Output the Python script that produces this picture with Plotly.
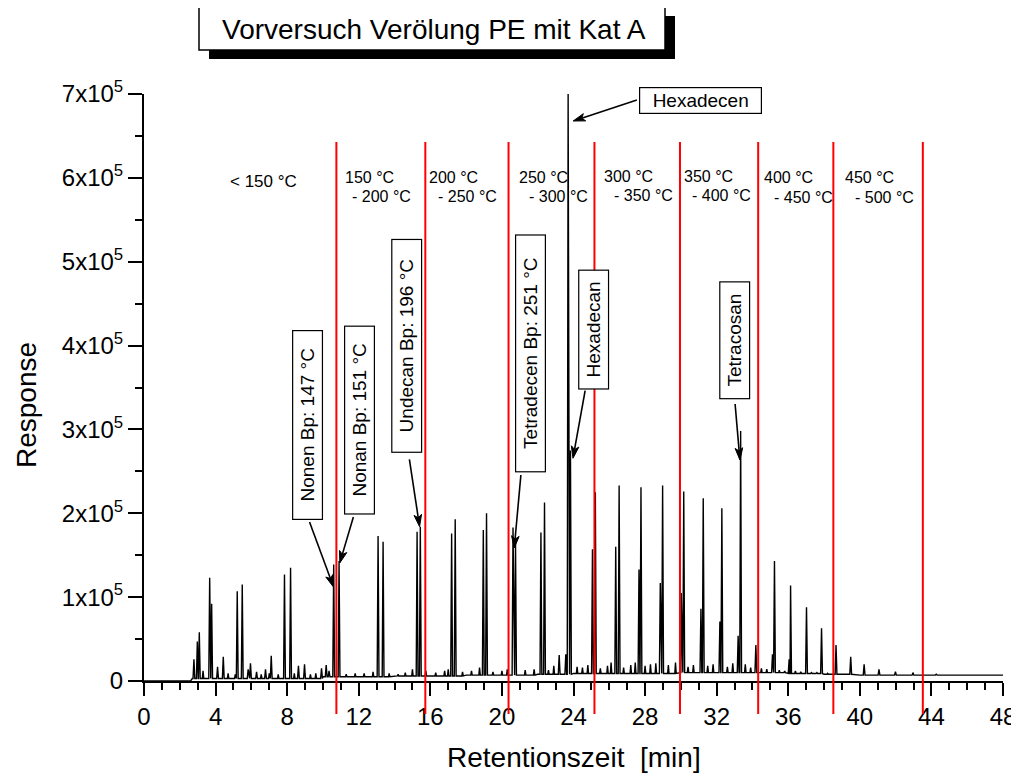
import math
import plotly.graph_objects as go

# ---------------- data ----------------
# main chromatogram peaks: retention time [min] and response
major_rt = [2.79, 2.98, 3.09, 3.67, 3.78, 4.11, 4.43, 5.21, 5.49, 5.82, 5.95, 6.29, 6.79, 7.11,
            7.85, 8.19, 8.63, 8.97, 9.92, 10.18, 10.34, 10.60, 10.90,
            13.08, 13.36, 15.26, 15.44, 17.19, 17.39, 18.96, 19.14, 20.62, 20.76,
            22.18, 22.38, 23.20, 23.57, 23.70, 23.83,
            25.06, 25.22, 26.36, 26.55, 27.66, 27.77, 28.85, 28.98, 30.02, 30.16,
            31.12, 31.25, 32.18, 32.29, 33.20, 33.34, 34.19, 35.12, 35.23, 36.05, 36.13,
            37.02, 37.86, 38.67, 39.49, 40.24, 41.07, 41.99, 42.97, 44.27]
major_resp = [26000, 47000, 58000, 123000, 92000, 17000, 29000, 107000, 115000, 14000, 21000, 11000, 14000, 30000,
              127000, 135000, 18000, 20000, 15000, 19000, 12000, 139000, 143000,
              173000, 166000, 178000, 184000, 176000, 193000, 180000, 200000, 183000, 165000,
              177000, 213000, 31000, 32000, 700000, 275000,
              157000, 225000, 160000, 233000, 133000, 231000, 117000, 233000, 105000, 226000,
              86000, 218000, 71000, 206000, 54000, 298000, 43000, 32000, 143000, 26000, 114000,
              88000, 63000, 43000, 29000, 20000, 14000, 11000, 10000, 8000]

# small baseline bumps
minor_rt = [3.30, 4.70, 5.10, 6.55, 7.00, 7.50, 8.40, 9.30, 9.60, 11.30, 11.80, 12.30, 12.80,
            13.70, 14.20, 14.60, 15.00, 15.75, 16.30, 16.80, 17.00, 17.80, 18.30, 18.75, 19.50,
            20.00, 20.30, 21.30, 21.80, 22.60, 22.90, 24.20, 24.50, 24.80, 25.50, 25.90, 26.10,
            26.80, 27.20, 27.45, 28.00, 28.30, 28.60, 29.30, 29.70, 30.40, 30.70, 31.50, 31.80,
            32.60, 32.90, 33.60, 33.90, 34.50, 34.80, 35.50, 35.80, 36.40, 36.70, 37.30, 37.60,
            38.20, 39.00]
minor_resp = [12000, 9000, 8000, 8000, 9000, 8000, 9000, 8000, 9000, 8000, 9000, 9000, 11000,
              9000, 8000, 10000, 14000, 12000, 10000, 12000, 14000, 11000, 12000, 16000, 11000,
              12000, 14000, 13000, 14000, 13000, 18000, 17000, 16000, 19000, 15000, 18000, 22000,
              16000, 19000, 22000, 18000, 20000, 21000, 19000, 22000, 17000, 19000, 18000, 20000,
              17000, 21000, 20000, 16000, 15000, 14000, 13000, 12000, 12000, 11000, 10000, 10000,
              9000, 8000]

# baseline level knots
baseline_rt = [0, 2.6, 2.7, 6, 10, 14, 18, 22, 24, 30, 36, 38, 40, 48]
baseline_resp = [0, 0, 3000, 3000, 5000, 6000, 7000, 8000, 9000, 10000, 9000, 8000, 7000, 7000]

# boiling range cut times (red lines)
cut_rt = [10.75, 15.72, 20.37, 25.17, 29.95, 34.32, 38.52, 43.52]
range_first = "&lt; 150 °C"
range_upper = ["150 °C", "200 °C", "250 °C", "300 °C", "350 °C", "400 °C", "450 °C"]
range_lower = ["- 200 °C", "- 250 °C", "- 300 °C", "- 350 °C", "- 400 °C", "- 450 °C", "- 500 °C"]

x_ticks = list(range(0, 49, 4))
y_ticks = [0, 100000, 200000, 300000, 400000, 500000, 600000, 700000]
y_ticktext = ["0"] + [f"{i}x10<sup>5</sup>" for i in range(1, 8)]

compound_labels = ["Nonen Bp: 147 °C", "Nonan Bp: 151 °C", "Undecan Bp: 196 °C",
                   "Tetradecen Bp: 251 °C", "Hexadecan", "Tetracosan", "Hexadecen"]

title_text = "Vorversuch Verölung PE mit Kat A"
x_title = "Retentionszeit\u00a0 [min]"
y_title = "Response"

# ---------------- layout constants ----------------
X_RANGE = [0, 48]
Y_RANGE = [0, 700000]
FONT = "Liberation Sans, Arial, sans-serif"
PAGE_OFFSET = 8                      # default page margin of the html body
W, H = 1019 - PAGE_OFFSET, 776 - PAGE_OFFSET
ML_REF, MT_REF = 144, 94             # plot area origin in screen pixels
PW, PH = 859, 587                    # plot area size
ML, MT = ML_REF - PAGE_OFFSET, MT_REF - PAGE_OFFSET
MR, MB = W - ML - PW, H - MT - PH


def xpaper(v):
    return (v - X_RANGE[0]) / (X_RANGE[1] - X_RANGE[0])


def ypaper(v):
    return (v - Y_RANGE[0]) / (Y_RANGE[1] - Y_RANGE[0])


def px_x(p):  # screen pixel -> paper
    return (p - ML_REF) / PW


def px_y(p):
    return (MT_REF + PH - p) / PH


# ---------------- build chromatogram polyline ----------------
def base_at(x):
    lvl = baseline_resp[0]
    for bx, by in zip(baseline_rt, baseline_resp):
        if bx <= x:
            lvl = by
    return lvl


pts = list(zip(baseline_rt, baseline_resp))
for rt, r in zip(major_rt, major_resp):
    w = 0.05
    f = base_at(rt)
    pts += [(rt - w, f), (rt, r), (rt + w, f)]
for rt, r in zip(minor_rt, minor_resp):
    w = 0.04
    f = base_at(rt)
    pts += [(rt - w, f), (rt, r), (rt + w, f)]
pts.sort(key=lambda p: p[0])

fig = go.Figure()
fig.add_trace(go.Scatter(
    x=[p[0] for p in pts], y=[p[1] for p in pts], mode="lines",
    line=dict(color="black", width=1.4), hoverinfo="skip", showlegend=False))

# ---------------- red cut lines ----------------
shapes = []
for c in cut_rt:
    shapes.append(dict(type="line", xref="paper", yref="paper",
                       x0=xpaper(c), x1=xpaper(c), y0=px_y(714), y1=px_y(142),
                       line=dict(color="#ff0000", width=2), layer="above"))

# title box with shadow
shapes.append(dict(type="rect", xref="paper", yref="paper",
                   x0=px_x(209), x1=px_x(675), y0=px_y(59), y1=px_y(16),
                   fillcolor="black", line=dict(width=0)))
shapes.append(dict(type="rect", xref="paper", yref="paper",
                   x0=px_x(199), x1=px_x(665), y0=px_y(50), y1=px_y(7),
                   fillcolor="white", line=dict(color="black", width=1.5)))

annotations = []
annotations.append(dict(text=title_text, xref="paper", yref="paper",
                        x=px_x(434), y=px_y(29), showarrow=False,
                        xanchor="center", yanchor="middle",
                        font=dict(family=FONT, size=28, color="black")))

# axis titles
annotations.append(dict(text=x_title, xref="paper", yref="paper",
                        x=px_x(574), y=px_y(757), showarrow=False,
                        xanchor="center", yanchor="middle",
                        font=dict(family=FONT, size=28, color="black")))
annotations.append(dict(text=y_title, xref="paper", yref="paper",
                        x=px_x(26), y=px_y(405), showarrow=False, textangle=-90,
                        xanchor="center", yanchor="middle",
                        font=dict(family=FONT, size=28, color="black")))

# boiling range labels
tfont = dict(family=FONT, size=16, color="black")
annotations.append(dict(text=range_first, x=6.65, y=596000, xref="x", yref="y",
                        showarrow=False, xanchor="center", yanchor="middle",
                        font=dict(family=FONT, size=17, color="black")))
upper_x = [11.10, 15.81, 20.84, 25.58, 30.04, 34.51, 39.06]
lower_x = [11.53, 16.33, 21.40, 26.14, 30.51, 35.10, 39.59]
upper_y = [601000, 601000, 601000, 602000, 602000, 600000, 600000]
lower_y = [578000, 578000, 578000, 579000, 579000, 577000, 577000]
for t, xx, yy in zip(range_upper, upper_x, upper_y):
    annotations.append(dict(text=t, x=xx, y=yy, xref="x", yref="y", showarrow=False,
                            xanchor="left", yanchor="middle", font=tfont))
for t, xx, yy in zip(range_lower, lower_x, lower_y):
    annotations.append(dict(text=t, x=xx, y=yy, xref="x", yref="y", showarrow=False,
                            xanchor="left", yanchor="middle", font=tfont))

# compound label boxes: (box centre x, y), long side px, rotated?, arrow tail, arrow tip
box_specs = [
    ((9.165, 305300), 190, True, (9.25, 189600), (10.59, 112100)),
    ((12.03, 310900), 189, True, (11.70, 195600), (10.94, 140700)),
    ((14.67, 399100), 214, True, (14.83, 264400), (15.40, 184000)),
    ((21.58, 390900), 238, True, (21.06, 245700), (20.69, 158600)),
    ((25.11, 419500), 120, True, (24.65, 346200), (23.97, 265600)),
    ((33.01, 406000), 118, True, (33.03, 330300), (33.30, 263500)),
    ((31.12, 691900), 123, False, (27.54, 692800), (23.98, 667800)),
]
bfont = dict(family=FONT, size=19, color="black")
HEAD_LEN, HEAD_HALF = 12, 3.8
for lab, (c, L, rot, tail, tip) in zip(compound_labels, box_specs):
    annotations.append(dict(text=lab, x=c[0], y=c[1], xref="x", yref="y",
                            showarrow=False, xanchor="center", yanchor="middle",
                            textangle=-90 if rot else 0,
                            width=L - 2, height=(29 if rot else 25), borderpad=0,
                            bgcolor="white", bordercolor="black", borderwidth=1.2,
                            font=bfont))
    # arrow drawn as shapes (line + filled head), geometry in screen pixels
    tx, ty = xpaper(tail[0]) * PW, (1 - ypaper(tail[1])) * PH
    hx, hy = xpaper(tip[0]) * PW, (1 - ypaper(tip[1])) * PH
    dx, dy = hx - tx, hy - ty
    n = math.hypot(dx, dy)
    ux, uy = dx / n, dy / n
    bx, by = hx - HEAD_LEN * ux, hy - HEAD_LEN * uy
    p1 = (bx - HEAD_HALF * uy, by + HEAD_HALF * ux)
    p2 = (bx + HEAD_HALF * uy, by - HEAD_HALF * ux)

    def pp(x, y):
        return f"{x / PW:.5f},{1 - y / PH:.5f}"

    shapes.append(dict(type="line", xref="paper", yref="paper",
                       x0=tx / PW, y0=1 - ty / PH, x1=(bx + 3 * ux) / PW, y1=1 - (by + 3 * uy) / PH,
                       line=dict(color="black", width=1.6)))
    shapes.append(dict(type="path", xref="paper", yref="paper",
                       path=f"M{pp(hx, hy)} L{pp(*p1)} L{pp(bx + 3 * ux, by + 3 * uy)} L{pp(*p2)} Z",
                       fillcolor="black", line=dict(color="black", width=1)))

tickfont = dict(family=FONT, size=24, color="black")
fig.update_layout(
    width=W, height=H,
    margin=dict(l=ML, r=MR, t=MT, b=MB, pad=0, autoexpand=False),
    paper_bgcolor="white", plot_bgcolor="white",
    showlegend=False,
    shapes=shapes, annotations=annotations,
    xaxis=dict(range=X_RANGE, tickvals=x_ticks, ticks="outside", ticklen=13, tickwidth=2,
               tickcolor="black", showline=True, linewidth=2, linecolor="black",
               showgrid=False, zeroline=False, tickfont=tickfont, automargin=False,
               minor=dict(dtick=1, ticks="outside", ticklen=7, tickwidth=2, tickcolor="black",
                          showgrid=False)),
    yaxis=dict(range=Y_RANGE, tickvals=y_ticks, ticktext=y_ticktext, ticks="outside",
               ticklen=14, tickwidth=2, tickcolor="black", showline=True, linewidth=2,
               linecolor="black", showgrid=False, zeroline=False, tickfont=tickfont,
               automargin=False,
               minor=dict(dtick=50000, tick0=0, ticks="outside", ticklen=7, tickwidth=2,
                          tickcolor="black", showgrid=False)),
)

fig.write_html("out.html")
